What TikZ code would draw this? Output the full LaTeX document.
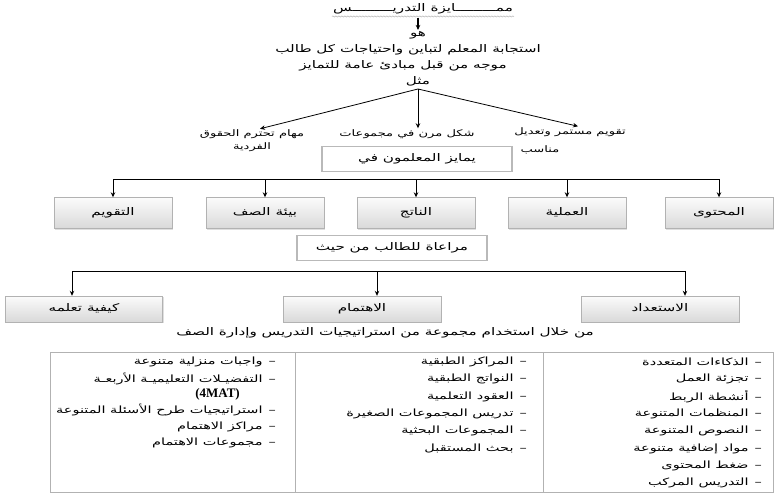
\documentclass[tikz,border=0pt]{standalone}
\usepackage{fontspec}
\setmainfont{Liberation Serif}
\newfontfamily\arabicfont[Script=Arabic, FakeStretch=1.45]{DejaVu Sans}
\TeXXeTstate=1
\usetikzlibrary{positioning}
\usetikzlibrary{arrows.meta}
\usetikzlibrary{decorations.pathmorphing}
\usetikzlibrary{shadows}
\newcommand{\artxt}[1]{\beginR #1\endR}

\begin{document}
\begin{tikzpicture}[
    x=1pt, y=-1pt,
    txt/.style={font=\arabicfont\fontsize{10.5}{14}\selectfont, inner sep=1pt},
    principle/.style={txt, font=\arabicfont\fontsize{9}{13}\selectfont},
    shadebox/.style={txt, draw=gray!60, top color=gray!3, bottom color=gray!30,
        minimum width=118pt, minimum height=31pt, text height=7pt, text depth=2pt,
        drop shadow={opacity=0.25, shadow xshift=1.2pt, shadow yshift=-1.2pt}},
    framebox/.style={txt, draw=gray!55, line width=1.6pt, fill=white,
        minimum width=190pt, minimum height=25pt, text height=7pt, text depth=2pt},
    arr/.style={-{Stealth[length=5pt, width=4.5pt]}, thick},
    bus/.style={thick},
    item/.style={txt, font=\arabicfont\fontsize{10}{12}\selectfont, anchor=east},
    tablerule/.style={draw=gray!60, line width=0.9pt}
]
\useasboundingbox (0,0) rectangle (774,495);

% Definition
\node[txt] (title) at (423,9) {\artxt{ممـــــــــايزة التدريـــــــــس}};
\draw[gray!70, decorate, decoration={snake, amplitude=0.6pt, segment length=3pt}]
    ([yshift=-1pt]title.south west) -- ([yshift=-1pt]title.south east);
\node[txt] (huwa) at (418,35) {\artxt{هو}};
\node[txt] (resp) at (408,50) {\artxt{استجابة المعلم لتباين واحتياجات كل طالب}};
\node[txt] (guide) at (403,66) {\artxt{موجه من قبل مبادئ عامة للتمايز}};
\node[txt] (mithl) at (418,81) {\artxt{مثل}};
\coordinate (fork) at (418,89);
\draw[arr, line width=1.1pt] ([yshift=-3pt]title.south -| huwa) -- (huwa.north);

% Principles
\node[principle, align=center] (tasks) at (252,141) {\artxt{مهام تحترم الحقوق}\\\artxt{الفردية}};
\node[principle] (flex) at (407,134) {\artxt{شكل مرن في مجموعات}};
\node[principle] (assess) at (570,132) {\artxt{تقويم مستمر وتعديل}};
\node[principle] (assess2) at (540,150) {\artxt{مناسب}};
\draw[arr] (fork) -- ([xshift=8pt]tasks.north);
\draw[arr] (fork) -- (fork |- flex.north);
\draw[arr] (fork) -- ([xshift=8pt]assess.north);

% Teachers differentiate in
\node[framebox] (differ) at (417,159) {\artxt{يمايز المعلمون في}};
\coordinate (busA) at (0,179);
\node[shadebox] (evalbox) at (113,213) {\artxt{التقويم}};
\node[shadebox] (envbox) at (265,213) {\artxt{بيئة الصف}};
\node[shadebox] (prodbox) at (416,213) {\artxt{الناتج}};
\node[shadebox] (procbox) at (567,213) {\artxt{العملية}};
\node[shadebox, minimum width=108pt] (contbox) at (719,213) {\artxt{المحتوى}};
\draw[bus] (evalbox.north |- busA) -- (contbox.north |- busA);
\foreach \b in {evalbox, envbox, prodbox, procbox, contbox}
    \draw[arr] (\b.north |- busA) -- (\b.north);

% According to the student
\node[framebox] (regard) at (392,248) {\artxt{مراعاة للطالب من حيث}};
\coordinate (busB) at (0,271);
\node[shadebox, minimum width=157pt, minimum height=26pt] (howbox) at (84,309) {\artxt{كيفية تعلمه}};
\node[shadebox, minimum width=158pt, minimum height=26pt] (intbox) at (362,309) {\artxt{الاهتمام}};
\node[shadebox, minimum width=158pt, minimum height=26pt] (readybox) at (660,309) {\artxt{الاستعداد}};
\draw[bus] ([xshift=-12pt]howbox.north |- busB) -- ([xshift=25pt]readybox.north |- busB);
\draw[arr] ([xshift=-12pt]howbox.north |- busB) -- ([xshift=-12pt]howbox.north);
\draw[arr] ([xshift=15pt]intbox.north |- busB) -- ([xshift=15pt]intbox.north);
\draw[arr] ([xshift=25pt]readybox.north |- busB) -- ([xshift=25pt]readybox.north);

% Strategies
\node[txt] (through) at (385,333) {\artxt{من خلال استخدام مجموعة من استراتيجيات التدريس وإدارة الصف}};
\draw[tablerule] (50,352) rectangle (773,492);
\draw[tablerule] (295,352) -- (295,492);
\draw[tablerule] (543,352) -- (543,492);

\foreach \t [count=\i from 0] in {الذكاءات المتعددة, تجزئة العمل, أنشطة الربط,
    المنظمات المتنوعة, النصوص المتنوعة, مواد إضافية متنوعة, ضغط المحتوى, التدريس المركب}
    \node[item] (rdy\i) at (763,{362+17.3*\i}) {\artxt{–\hspace{6pt}\t}};
\foreach \t [count=\i from 0] in {المراكز الطبقية, النواتج الطبقية, العقود التعلمية,
    تدريس المجموعات الصغيرة, المجموعات البحثية, بحث المستقبل}
    \node[item] (int\i) at (528,{362+17.3*\i}) {\artxt{–\hspace{6pt}\t}};
\foreach \t/\yy [count=\i from 0] in {واجبات منزلية متنوعة/362,
    التفضيـلات التعليميـة الأربعـة/379, استراتيجيات طرح الأسئلة المتنوعة/410,
    مراكز الاهتمام/427, مجموعات الاهتمام/443}
    \node[item] (how\i) at (277,\yy) {\artxt{–\hspace{6pt}\t}};
\node[anchor=east, inner sep=1pt, font=\bfseries\fontsize{13}{15}\selectfont] (fourmat) at (241,394) {(4MAT)};

\end{tikzpicture}
\end{document}
